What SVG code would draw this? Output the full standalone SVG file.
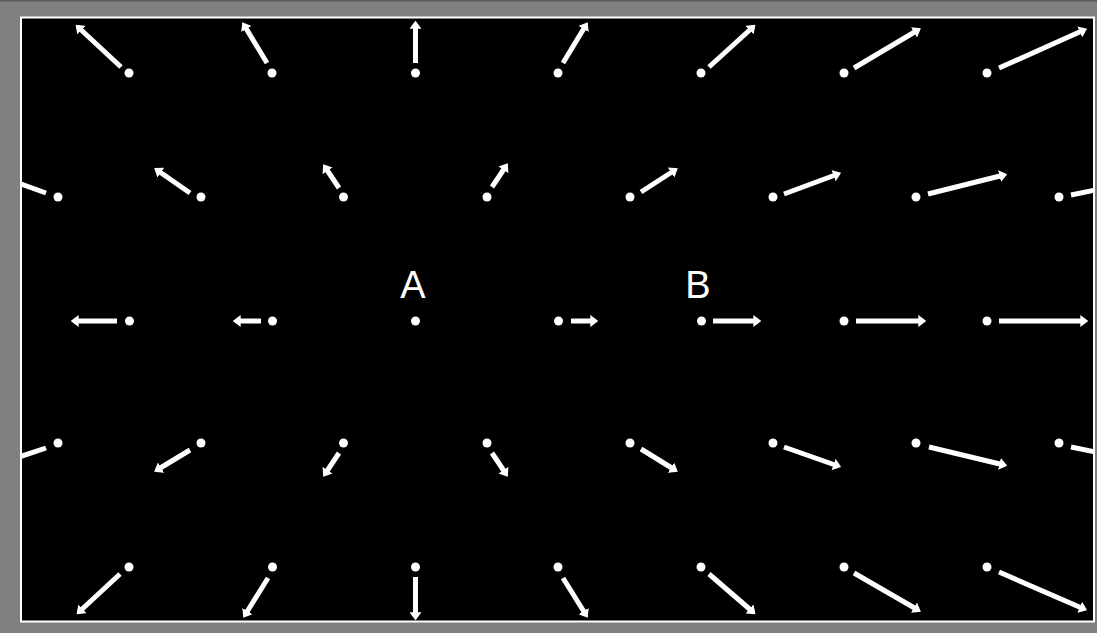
<svg xmlns="http://www.w3.org/2000/svg" width="1097" height="633" viewBox="0 0 1097 633">
<style>
.dot{fill:#fff}
.arr{stroke:#fff;stroke-width:5;fill:none;marker-end:url(#head)}
.lbl{fill:#fff;font-family:"Liberation Sans",Arial,sans-serif;font-size:38px;text-anchor:middle}
</style>
<defs>
<marker id="head" viewBox="0 0 8 12" markerUnits="userSpaceOnUse" markerWidth="8" markerHeight="12" refX="4.67" refY="6" orient="auto">
<path d="M0,0 L8,6 L0,12 z" fill="#fff"/>
</marker>
<clipPath id="inner"><rect x="22" y="18.5" width="1071" height="602"/></clipPath>
</defs>
<rect x="0" y="0" width="1097" height="633" fill="#808080"/>
<rect x="0" y="0" width="1097" height="1.5" fill="#5a5a5a"/>
<rect x="21" y="17.5" width="1073" height="604" fill="#000" stroke="#fff" stroke-width="2"/>
<g id="field" clip-path="url(#inner)">
<g id="row1">
<circle class="dot" cx="129" cy="73" r="4.5"/><line class="arr" x1="121" y1="67" x2="78" y2="27"/>
<circle class="dot" cx="272" cy="73" r="4.5"/><line class="arr" x1="267" y1="63" x2="244" y2="25"/>
<circle class="dot" cx="415.5" cy="73" r="4.5"/><line class="arr" x1="415.5" y1="63" x2="415.5" y2="24"/>
<circle class="dot" cx="558" cy="73" r="4.5"/><line class="arr" x1="563" y1="63" x2="586" y2="25"/>
<circle class="dot" cx="701" cy="73" r="4.5"/><line class="arr" x1="709" y1="67" x2="753" y2="27"/>
<circle class="dot" cx="844" cy="73" r="4.5"/><line class="arr" x1="854" y1="68" x2="918" y2="30"/>
<circle class="dot" cx="987" cy="73" r="4.5"/><line class="arr" x1="999" y1="68" x2="1084" y2="30"/>
</g>
<g id="row2">
<circle class="dot" cx="58" cy="197" r="4.5"/><line class="arr" x1="46" y1="193" x2="10" y2="180"/>
<circle class="dot" cx="201" cy="197" r="4.5"/><line class="arr" x1="190" y1="193" x2="157" y2="170"/>
<circle class="dot" cx="343.5" cy="197" r="4.5"/><line class="arr" x1="339" y1="188" x2="325" y2="167"/>
<circle class="dot" cx="487" cy="197" r="4.5"/><line class="arr" x1="492" y1="187" x2="506" y2="166"/>
<circle class="dot" cx="630" cy="197" r="4.5"/><line class="arr" x1="641" y1="192" x2="675" y2="170"/>
<circle class="dot" cx="773" cy="197" r="4.5"/><line class="arr" x1="784" y1="194" x2="838" y2="174"/>
<circle class="dot" cx="916" cy="197" r="4.5"/><line class="arr" x1="928" y1="194" x2="1004" y2="175"/>
<circle class="dot" cx="1059" cy="197" r="4.5"/><line class="arr" x1="1071" y1="195" x2="1110" y2="187"/>
</g>
<g id="row3">
<circle class="dot" cx="129.5" cy="321" r="4.5"/><line class="arr" x1="117" y1="321" x2="74" y2="321"/>
<circle class="dot" cx="272.5" cy="321" r="4.5"/><line class="arr" x1="261" y1="321" x2="236" y2="321"/>
<circle class="dot" cx="415.5" cy="321" r="4.5"/>
<circle class="dot" cx="558.5" cy="321" r="4.5"/><line class="arr" x1="571" y1="321" x2="595" y2="321"/>
<circle class="dot" cx="701.5" cy="321" r="4.5"/><line class="arr" x1="713" y1="321" x2="758" y2="321"/>
<circle class="dot" cx="844" cy="321" r="4.5"/><line class="arr" x1="856" y1="321" x2="923" y2="321"/>
<circle class="dot" cx="987" cy="321" r="4.5"/><line class="arr" x1="999" y1="321" x2="1085" y2="321"/>
</g>
<g id="row4">
<circle class="dot" cx="58" cy="443" r="4.5"/><line class="arr" x1="46" y1="448" x2="10" y2="460"/>
<circle class="dot" cx="201" cy="443" r="4.5"/><line class="arr" x1="190" y1="450" x2="157" y2="470"/>
<circle class="dot" cx="343.5" cy="443" r="4.5"/><line class="arr" x1="339" y1="453" x2="325" y2="474"/>
<circle class="dot" cx="487" cy="443" r="4.5"/><line class="arr" x1="492" y1="453" x2="506" y2="474"/>
<circle class="dot" cx="630" cy="443" r="4.5"/><line class="arr" x1="641" y1="449" x2="675" y2="470"/>
<circle class="dot" cx="773" cy="443" r="4.5"/><line class="arr" x1="784" y1="447" x2="838" y2="466"/>
<circle class="dot" cx="916" cy="443" r="4.5"/><line class="arr" x1="929" y1="447" x2="1004" y2="465"/>
<circle class="dot" cx="1059" cy="443" r="4.5"/><line class="arr" x1="1071" y1="447" x2="1110" y2="455"/>
</g>
<g id="row5">
<circle class="dot" cx="129" cy="567" r="4.5"/><line class="arr" x1="120" y1="574" x2="79" y2="612"/>
<circle class="dot" cx="272.5" cy="567" r="4.5"/><line class="arr" x1="268" y1="578" x2="245" y2="615"/>
<circle class="dot" cx="415.5" cy="567" r="4.5"/><line class="arr" x1="415.5" y1="577" x2="415.5" y2="617"/>
<circle class="dot" cx="558" cy="567" r="4.5"/><line class="arr" x1="563" y1="578" x2="586" y2="615"/>
<circle class="dot" cx="701" cy="567" r="4.5"/><line class="arr" x1="709" y1="574" x2="753" y2="612"/>
<circle class="dot" cx="844" cy="567" r="4.5"/><line class="arr" x1="854" y1="573" x2="918" y2="610"/>
<circle class="dot" cx="987" cy="567" r="4.5"/><line class="arr" x1="999" y1="572" x2="1084" y2="609"/>
</g>
</g>
<g id="A"><text class="lbl" x="413" y="298">A</text></g>
<g id="B"><text class="lbl" x="698" y="298">B</text></g>
</svg>
